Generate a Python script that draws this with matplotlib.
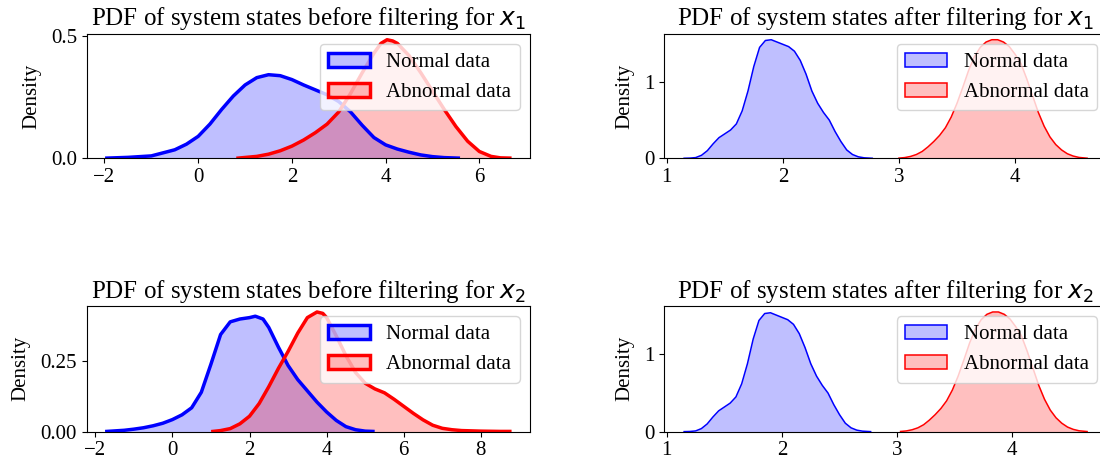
import matplotlib
matplotlib.use("Agg")
import matplotlib.pyplot as plt
from matplotlib.patches import Patch

plt.rcParams['font.family'] = ['Liberation Serif', 'DejaVu Serif']
plt.rcParams['mathtext.fontset'] = 'dejavusans'

# ---- densities (x, density) ----
# before filtering, x1
bx1_norm_x = [-1.95, -1.5, -1.0, -0.5, -0.25, 0.0, 0.25, 0.5, 0.75, 1.0, 1.25, 1.5, 1.75, 2.0,
              2.25, 2.5, 2.75, 3.0, 3.25, 3.5, 3.75, 4.0, 4.25, 4.5, 4.75, 5.0, 5.25, 5.55]
bx1_norm_y = [0.001, 0.004, 0.01, 0.035, 0.058, 0.09, 0.14, 0.2, 0.255, 0.3, 0.33, 0.342, 0.338, 0.322,
              0.3, 0.28, 0.26, 0.232, 0.19, 0.135, 0.085, 0.055, 0.038, 0.025, 0.014, 0.007, 0.003, 0.001]
bx1_abn_x = [0.85, 1.25, 1.5, 1.75, 2.0, 2.25, 2.5, 2.75, 3.0, 3.25, 3.5, 3.75, 3.9, 4.03, 4.15,
             4.25, 4.5, 4.75, 5.0, 5.25, 5.5, 5.75, 6.0, 6.25, 6.45, 6.65]
bx1_abn_y = [0.001, 0.008, 0.017, 0.031, 0.05, 0.075, 0.105, 0.14, 0.19, 0.265, 0.35, 0.43, 0.47, 0.485, 0.48,
             0.47, 0.42, 0.35, 0.275, 0.2, 0.13, 0.07, 0.028, 0.008, 0.002, 0.001]

# after filtering, x1
ax1_norm_x = [1.15, 1.2, 1.25, 1.3, 1.35, 1.4, 1.45, 1.5, 1.55, 1.6, 1.65, 1.7, 1.75, 1.8, 1.85,
              1.9, 1.95, 2.0, 2.05, 2.1, 2.15, 2.2, 2.25, 2.3, 2.35, 2.4, 2.45, 2.5, 2.55, 2.6,
              2.65, 2.7, 2.77]
ax1_norm_y = [0.001, 0.003, 0.01, 0.04, 0.1, 0.19, 0.27, 0.32, 0.37, 0.45, 0.62, 0.88, 1.2, 1.45, 1.54,
              1.55, 1.52, 1.49, 1.46, 1.4, 1.28, 1.1, 0.88, 0.72, 0.6, 0.5, 0.35, 0.22, 0.11, 0.05,
              0.02, 0.007, 0.001]
ax1_abn_x = [3.0, 3.05, 3.1, 3.15, 3.2, 3.25, 3.3, 3.35, 3.4, 3.45, 3.5, 3.55, 3.6, 3.65, 3.7,
             3.75, 3.8, 3.85, 3.9, 3.95, 4.0, 4.05, 4.1, 4.15, 4.2, 4.25, 4.3, 4.35, 4.4, 4.45,
             4.5, 4.55, 4.62]
ax1_abn_y = [0.003, 0.01, 0.025, 0.05, 0.09, 0.15, 0.22, 0.3, 0.4, 0.54, 0.72, 0.93, 1.15, 1.33, 1.45,
             1.52, 1.55, 1.55, 1.52, 1.46, 1.36, 1.24, 1.04, 0.82, 0.6, 0.42, 0.28, 0.18, 0.11, 0.06,
             0.03, 0.012, 0.002]

# before filtering, x2
bx2_norm_x = [-1.7, -1.25, -1.0, -0.75, -0.5, -0.25, 0.0, 0.25, 0.5, 0.75, 1.0, 1.25, 1.5, 1.75,
              2.0, 2.15, 2.35, 2.5, 2.75, 3.0, 3.25, 3.5, 3.75, 4.0, 4.25, 4.5, 4.75, 5.0, 5.2]
bx2_norm_y = [0.001, 0.005, 0.009, 0.014, 0.021, 0.03, 0.043, 0.06, 0.085, 0.14, 0.24, 0.345, 0.39, 0.4,
              0.405, 0.41, 0.4, 0.37, 0.3, 0.235, 0.185, 0.145, 0.105, 0.07, 0.04, 0.018, 0.007, 0.002, 0.001]
bx2_abn_x = [1.05, 1.25, 1.5, 1.75, 2.0, 2.25, 2.5, 2.75, 3.0, 3.25, 3.5, 3.75, 3.9, 4.0, 4.25,
             4.5, 4.75, 5.0, 5.25, 5.5, 5.75, 6.0, 6.25, 6.5, 6.75, 7.0, 7.25, 7.5, 8.0, 8.5, 8.75]
bx2_abn_y = [0.001, 0.004, 0.011, 0.028, 0.055, 0.1, 0.16, 0.225, 0.285, 0.35, 0.405, 0.425, 0.42, 0.405, 0.34,
             0.27, 0.21, 0.172, 0.152, 0.138, 0.115, 0.09, 0.065, 0.042, 0.023, 0.012, 0.007, 0.004, 0.002,
             0.001, 0.001]

# after filtering, x2
ax2_norm_x = [1.15, 1.2, 1.25, 1.3, 1.35, 1.4, 1.45, 1.5, 1.55, 1.6, 1.65, 1.7, 1.75, 1.8, 1.85,
              1.9, 1.95, 2.0, 2.05, 2.1, 2.15, 2.2, 2.25, 2.3, 2.35, 2.4, 2.45, 2.5, 2.55, 2.6,
              2.65, 2.7, 2.77]
ax2_norm_y = [0.001, 0.003, 0.01, 0.04, 0.1, 0.19, 0.27, 0.32, 0.37, 0.45, 0.62, 0.88, 1.2, 1.44, 1.53,
              1.54, 1.51, 1.48, 1.45, 1.39, 1.27, 1.09, 0.88, 0.72, 0.6, 0.5, 0.35, 0.22, 0.11, 0.05,
              0.02, 0.007, 0.001]
ax2_abn_x = [3.03, 3.08, 3.13, 3.18, 3.23, 3.28, 3.33, 3.38, 3.43, 3.48, 3.53, 3.58, 3.63, 3.68, 3.73,
             3.78, 3.83, 3.88, 3.93, 3.98, 4.03, 4.08, 4.13, 4.18, 4.23, 4.28, 4.33, 4.38, 4.43, 4.48,
             4.53, 4.58, 4.65]
ax2_abn_y = [0.003, 0.01, 0.025, 0.05, 0.09, 0.15, 0.22, 0.3, 0.4, 0.54, 0.72, 0.93, 1.15, 1.33, 1.45,
             1.52, 1.55, 1.55, 1.52, 1.46, 1.36, 1.24, 1.04, 0.82, 0.6, 0.42, 0.28, 0.18, 0.11, 0.06,
             0.03, 0.012, 0.002]

titles = ["PDF of system states before filtering for $x_1$",
          "PDF of system states after filtering for $x_1$",
          "PDF of system states before filtering for $x_2$",
          "PDF of system states after filtering for $x_2$"]
labels = ["Normal data", "Abnormal data"]

panels = [
    (bx1_norm_x, bx1_norm_y, bx1_abn_x, bx1_abn_y, [-2, 0, 2, 4, 6], [0, 0.5], 2.5),
    (ax1_norm_x, ax1_norm_y, ax1_abn_x, ax1_abn_y, [1, 2, 3, 4], [0, 1], 1.1),
    (bx2_norm_x, bx2_norm_y, bx2_abn_x, bx2_abn_y, [-2, 0, 2, 4, 6, 8], [0, 0.25], 2.5),
    (ax2_norm_x, ax2_norm_y, ax2_abn_x, ax2_abn_y, [1, 2, 3, 4], [0, 1], 1.1),
]

# axes boxes in figure fractions (right column runs off the right edge, as in the reference)
boxes = [
    [0.0788, 0.658, 0.403, 0.269],
    [0.6036, 0.658, 0.403, 0.269],
    [0.0788, 0.0676, 0.403, 0.2715],
    [0.6036, 0.0676, 0.403, 0.2715],
]

fig = plt.figure(figsize=(11, 4.63), dpi=100)

for box, title, (nx, ny, axx, ayy, xt, yt, lw) in zip(boxes, titles, panels):
    ax = fig.add_axes(box)
    ax.fill_between(nx, ny, color='blue', alpha=0.25, linewidth=0)
    ax.plot(nx, ny, color='blue', linewidth=lw)
    ax.fill_between(axx, ayy, color='red', alpha=0.25, linewidth=0)
    ax.plot(axx, ayy, color='red', linewidth=lw)
    ymax = max(max(ny), max(ayy))
    ax.set_ylim(0, ymax * 1.05)
    ax.set_xticks(xt)
    ax.set_yticks(yt)
    ax.tick_params(labelsize=15)
    ax.set_ylabel("Density", fontsize=15, labelpad=7)
    ax.set_title(title, fontsize=18)
    handles = [Patch(facecolor=(0, 0, 1, 0.25), edgecolor='blue', linewidth=lw),
               Patch(facecolor=(1, 0, 0, 0.25), edgecolor='red', linewidth=lw)]
    ax.legend(handles, labels, loc='upper right', fontsize=15)

fig.savefig("out.png", dpi=100)
